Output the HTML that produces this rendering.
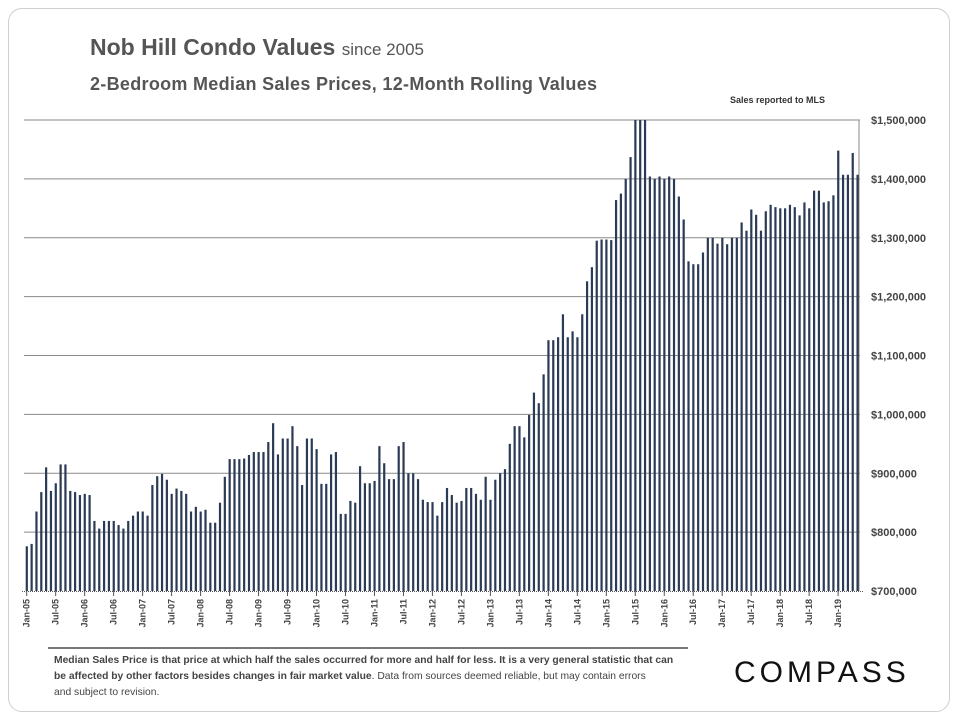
<!DOCTYPE html>
<html><head><meta charset="utf-8"><style>
body{margin:0;background:#fff;font-family:"Liberation Sans",sans-serif;}
#wrap{position:relative;width:960px;height:720px;overflow:hidden;}
#card{position:absolute;left:8px;top:8px;width:940px;height:702px;border:1px solid #cfcfcf;border-radius:14px;}
.t{position:absolute;color:#555;font-weight:bold;white-space:nowrap;}
</style></head><body>
<div id="wrap">
<div id="card"></div>
<div class="t" style="left:90px;top:34px;font-size:23px;">Nob Hill Condo Values <span style="font-size:17px;font-weight:normal;color:#555">since 2005</span></div>
<div class="t" style="left:90px;top:74px;font-size:18px;letter-spacing:0.3px;">2-Bedroom Median Sales Prices, 12-Month Rolling Values</div>
<div class="t" style="left:730px;top:95px;font-size:9px;color:#333;">Sales reported to MLS</div>
<svg id="chart" width="960" height="720" style="position:absolute;left:0;top:0"></svg>
<div style="position:absolute;left:48px;top:647px;width:640px;height:2px;background:#777"></div>
<div style="position:absolute;left:54px;top:653px;width:680px;font-size:10.3px;line-height:16px;color:#444;white-space:nowrap;"><b>Median Sales Price is that price at which half the sales occurred for more and half for less. It is a very general statistic that can</b><br><b>be affected by other factors besides changes in fair market value</b>. Data from sources deemed reliable, but may contain errors<br>and subject to revision.</div>
<div style="position:absolute;left:734px;top:656px;font-size:30px;letter-spacing:4px;color:#111;">COMPASS</div>
</div>
<script>
const values=[776,780,835,868,910,870,883,915,915,870,868,863,865,863,819,806,819,819,819,812,806,819,828,835,835,828,880,895,899,889,
865,874,870,865,835,843,835,838,816,816,850,894,924,924,924,925,931,936,936,936,953,985,932,959,959,980,946,880,959,959,
941,882,882,932,936,831,831,853,850,912,883,883,887,946,917,890,890,946,953,900,900,890,855,851,851,828,851,875,863,850,
853,875,875,865,855,894,855,889,900,907,950,980,980,961,999,1037,1019,1068,
1126,1126,1131,1170,1131,1141,1131,1170,1226,1250,1295,
1297,1297,1296,1364,1375,1400,1437,1500,1500,1500,1404,1400,1404,1400,1404,1400,1370,1331,1260,1255,1255,1275,1300,1300,1290,1300,1289,1300,1300,
1326,1312,1348,1339,1312,1345,1356,1352,1350,1350,1356,1352,1338,1360,1350,1380,1380,1360,1362,1372,1448,1407,1407,1444,1407];
const yTicks=[700,800,900,1000,1100,1200,1300,1400,1500];
const yTickLabels=["$700,000","$800,000","$900,000","$1,000,000","$1,100,000","$1,200,000","$1,300,000","$1,400,000","$1,500,000"];
const xLabels=["Jan-05","Jul-05","Jan-06","Jul-06","Jan-07","Jul-07","Jan-08","Jul-08","Jan-09","Jul-09","Jan-10","Jul-10","Jan-11","Jul-11","Jan-12","Jul-12","Jan-13","Jul-13","Jan-14","Jul-14","Jan-15","Jul-15","Jan-16","Jul-16","Jan-17","Jul-17","Jan-18","Jul-18","Jan-19"];
const NS="http://www.w3.org/2000/svg";
const svg=document.getElementById('chart');
const x0=26.7,step=4.83,yMin=700,yMax=1500,yBase=591,yTop=120;
const xs=i=>x0+i*step;
const ys=v=>yBase-(Math.min(v,yMax)-yMin)/(yMax-yMin)*(yBase-yTop);
function mk(t,a){const e=document.createElementNS(NS,t);for(const k in a)e.setAttribute(k,a[k]);svg.appendChild(e);return e;}
yTicks.forEach((v,i)=>{
  if(i>0){const g=mk('line',{x1:24,x2:860,y1:ys(v),y2:ys(v),stroke:'#8a8a8a','stroke-width':1});
  
  }
  const t=mk('text',{x:871,y:ys(v)+4,'font-size':11,'font-weight':'bold',fill:'#444','font-family':'Liberation Sans, sans-serif'});
  t.textContent=yTickLabels[i];
  
  
});
const ax=mk('line',{x1:859,x2:859,y1:yTop,y2:yBase,stroke:'#8a8a8a','stroke-width':1});


values.forEach((v,i)=>{
  const r=mk('rect',{x:xs(i)-1,y:ys(v),width:2.2,height:yBase-ys(v),fill:'#2b3a55'});
  
  
});
const b=mk('line',{x1:22,x2:863,y1:yBase+0.5,y2:yBase+0.5,stroke:'#555','stroke-width':1,'stroke-dasharray':'1,1'});


xLabels.forEach((l,k)=>{
  const x=xs(k*6);
  const tk=mk('line',{x1:x,x2:x,y1:yBase,y2:yBase+5,stroke:'#555','stroke-width':1});
  
  
  const t=mk('text',{x:0,y:0,'font-size':9,'font-weight':'bold',fill:'#444','text-anchor':'end','font-family':'Liberation Sans, sans-serif',transform:`translate(${x+3},${yBase+8}) rotate(-90)`});
  t.textContent=l;
  
  
});
</script>
</body></html>
